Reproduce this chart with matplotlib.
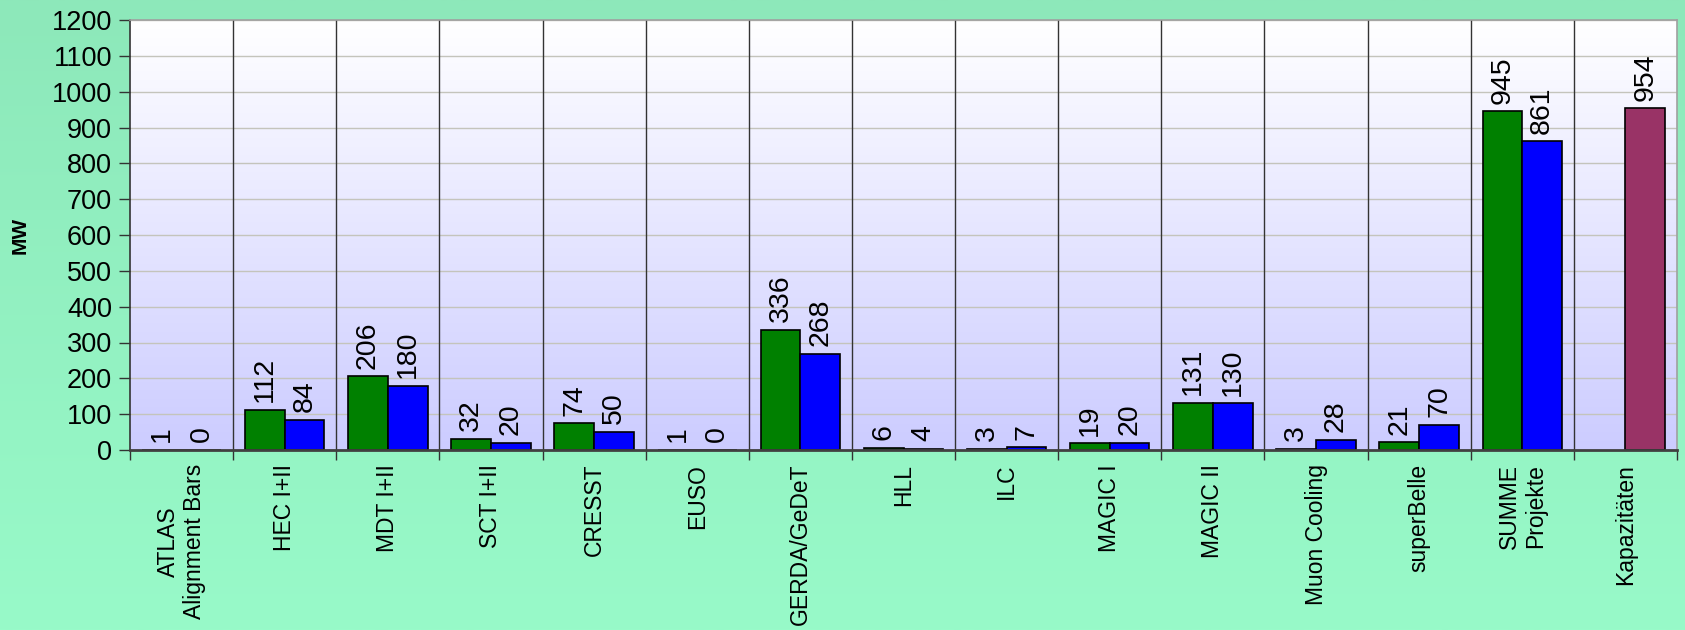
import matplotlib
matplotlib.use("Agg")
import matplotlib.pyplot as plt
import numpy as np
from matplotlib.colors import LinearSegmentedColormap

plt.rcParams['font.family'] = ['Liberation Sans', 'DejaVu Sans']

categories = ["ATLAS\nAlignment Bars", "HEC I+II", "MDT I+II", "SCT I+II", "CRESST",
              "EUSO", "GERDA/GeDeT", "HLL", "ILC", "MAGIC I", "MAGIC II",
              "Muon Cooling", "superBelle", "SUMME\nProjekte", "Kapazitäten"]
green_values = [1, 112, 206, 32, 74, 1, 336, 6, 3, 19, 131, 3, 21, 945, None]
blue_values = [0, 84, 180, 20, 50, 0, 268, 4, 7, 20, 130, 28, 70, 861, 954]
blue_colors = ["#0000FF"] * 14 + ["#993366"]
yticks = list(range(0, 1201, 100))

W, H = 1685, 630
fig = plt.figure(figsize=(W / 100, H / 100), dpi=100)

# figure background gradient
bg = fig.add_axes([0, 0, 1, 1], zorder=-10)
bg.axis("off")
bg_cmap = LinearSegmentedColormap.from_list("bg", ["#8DE8BA", "#98FAC9"])
bg.imshow(np.linspace(0, 1, 256).reshape(-1, 1), cmap=bg_cmap, aspect="auto",
          extent=[0, 1, 0, 1], origin="upper")
bg.set_xlim(0, 1); bg.set_ylim(0, 1)

left, right, top, bottom = 130 / W, 1677 / W, 1 - 20 / H, 1 - 450 / H
ax = fig.add_axes([left, bottom, right - left, top - bottom])
n = len(categories)
x = np.arange(n)
ax.set_xlim(-0.5, n - 0.5)
ax.set_ylim(0, 1200)

pa_cmap = LinearSegmentedColormap.from_list("pa", ["#FFFFFF", "#CCCCFF"])
ax.imshow(np.linspace(0, 1, 256).reshape(-1, 1), cmap=pa_cmap, aspect="auto",
          extent=[-0.5, n - 0.5, 0, 1200], origin="upper", zorder=0)

ax.set_yticks(yticks)
ax.yaxis.grid(True, color="#C4C4BC", lw=1.0, zorder=0.5)
ax.set_axisbelow(True)
for b in np.arange(0.5, n - 0.5, 1):
    ax.axvline(b, color="#333333", lw=1.0, zorder=1)

bw = 0.385


def label(xpos, val):
    ax.annotate(str(val), (xpos, val), xytext=(0, 5.5), textcoords="offset points",
                rotation=90, ha="center", va="bottom", fontsize=20.5, zorder=3)


for i in range(n):
    g = green_values[i]
    if g is not None:
        ax.bar(x[i] - bw / 2, g, bw, color="#008000", edgecolor="black", lw=1.2, zorder=2)
        label(x[i] - bw / 2, g)
    bv = blue_values[i]
    if bv is not None:
        ax.bar(x[i] + bw / 2, bv, bw, color=blue_colors[i], edgecolor="black", lw=1.2, zorder=2)
        label(x[i] + bw / 2, bv)

# ticks
ax.set_xticks(np.arange(-0.5, n, 1))
ax.set_xticklabels([])
ax.tick_params(axis="x", which="major", length=7, width=1, color="#333333", direction="out")
ax.set_xticks(x, minor=True)
ax.set_xticklabels(categories, minor=True, rotation=90, fontsize=16.5, multialignment="center")
ax.tick_params(axis="x", which="minor", length=0, pad=10)
ax.tick_params(axis="y", length=8, width=1, color="#333333", labelsize=19.5, pad=5)

for s in ["top", "right"]:
    ax.spines[s].set_color("#A0A0A0")
    ax.spines[s].set_linewidth(1.2)
ax.spines["left"].set_color("#333333")
ax.spines["left"].set_linewidth(1.2)
ax.spines["bottom"].set_color("#404040")
ax.spines["bottom"].set_linewidth(2)

fig.text(20 / W, 1 - 235 / H, "MW", rotation=90, ha="center", va="center",
         fontsize=15, fontweight="bold")

fig.savefig("out.png", dpi=100)
